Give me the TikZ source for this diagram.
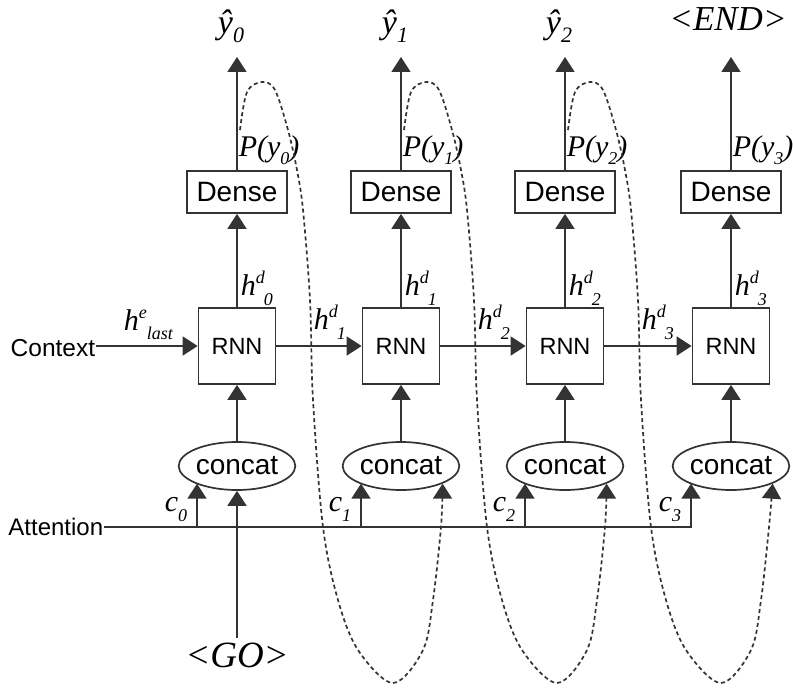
\documentclass[tikz,border=0pt]{standalone}
\usepackage{fontspec}
\setmainfont{Liberation Serif}
\newfontfamily\sansf{Liberation Sans}
\usetikzlibrary{arrows.meta,shapes.geometric,calc}
\definecolor{ln}{HTML}{333333}
\newcommand\fs[1]{\fontsize{#1}{#1}\selectfont}
\newcommand\hds[3]{\textit{\fs{30}h\raisebox{12pt}{\fs{18}#2}\hspace{-1pt}\raisebox{-10pt}{\fs{18}#3}}}
\newcommand\plab[1]{\textit{\fs{30}P(y\raisebox{-8pt}{\fs{18}#1})}}
\newcommand\ylab[1]{\textit{\fs{34}ŷ\raisebox{-9pt}{\fs{22}#1}}}
\newcommand\clab[1]{\textit{\fs{30}c\raisebox{-10pt}{\fs{18}#1}}}
\begin{document}
\begin{tikzpicture}[x=1pt,y=-1pt,line width=1.7pt,
  arr/.style={draw=ln,line width=1.7pt,-{Triangle[length=15pt,width=19pt]}},
  darr/.style={draw=ln,line width=1.7pt,dash pattern=on 4pt off 3pt,-{Triangle[length=15pt,width=19pt]}},
  densebox/.style={draw=ln,line width=1.7pt,rectangle,minimum width=100pt,minimum height=42pt,inner sep=0pt,font=\sansf\fs{28}},
  rnnbox/.style={draw=ln,line width=1.7pt,rectangle,minimum width=77pt,minimum height=76pt,inner sep=0pt,font=\sansf\fs{23.5}},
  catnode/.style={draw=ln,line width=1.7pt,ellipse,minimum width=114pt,minimum height=48pt,inner sep=0pt,font=\sansf\fs{28}},
  lbl/.style={inner sep=0pt,text=black}]
\useasboundingbox (0,0) rectangle (793,690);
\foreach \i/\x in {0/237,1/401,2/565,3/731} {
  \node[densebox] (d\i) at (\x,192) {Dense};
  \node[rnnbox] (r\i) at (\x,346) {RNN};
  \node[catnode] (c\i) at (\x,466) {concat};
  \coordinate (o\i) at (\x,57);
  \coordinate (a\i) at (\x-40,527);
  \coordinate (s\i) at (\x+3,130);
  \draw[arr] (r\i) -- (d\i);
  \draw[arr] (c\i) -- (r\i);
  \draw[arr] (d\i) -- (o\i);
  \node[lbl,anchor=base west] at (\x+3,295) {\hds{h}{d}{\i}};
  \node[lbl,anchor=base west] at (\x+1,157) {\plab{\i}};
  \node[lbl,anchor=base west] at (\x-73,511) {\clab{\i}};
}
\foreach \i in {0,1,2} {
  \node[lbl,anchor=base] at ($(o\i)+(-6,-23)$) {\ylab{\i}};
}
\node[lbl,anchor=base] (endl) at (728,31) {\textit{\fs{35}<END>}};
% horizontal recurrent arrows
\foreach \i/\j/\x in {0/1/237,1/2/401,2/3/565} {
  \draw[arr] (r\i) -- (r\j);
  \node[lbl,anchor=base west] at (\x+76,329) {\hds{h}{d}{\j}};
}
% context
\node[lbl,anchor=east,font=\sansf\fs{24.5}] (ctx) at (96,348) {Context};
\draw[arr] (ctx.east |- r0.west) -- (r0.west);
\node[lbl,anchor=base west] at (123,330) {\textit{\fs{30}h\raisebox{12pt}{\fs{18}e}\raisebox{-9pt}{\fs{18}last}}};
% attention
\node[lbl,anchor=east,font=\sansf\fs{24}] (att) at (104,527) {Attention};
\draw[arr] (att.east) -- (a3) -- (a3 |- c3.203);
\foreach \i in {0,1,2} {
  \draw[arr] (a\i) -- (a\i |- c\i.203);
}
% GO
\node[lbl,inner sep=4pt] (go) at (237,655) {\textit{\fs{37}<GO>}};
\draw[arr] (go.north) -- (c0.south);
% feedback dashed curves
\foreach \i/\j/\x in {0/1/237,1/2/401,2/3/565} {
  \draw[darr] plot[smooth,tension=0.55] coordinates {(s\i) ({\x+10},92) ({\x+25},82) ({\x+38},90) ({\x+51},130) ({\x+60},170) ({\x+66},210) ({\x+73},300) ({\x+76},400) ({\x+86},527) ({\x+101},600) ({\x+121},650) ({\x+156},683) ({\x+186},650) ({\x+196},600) ({\x+204},527) (c\j.337)};
}
\end{tikzpicture}
\end{document}
